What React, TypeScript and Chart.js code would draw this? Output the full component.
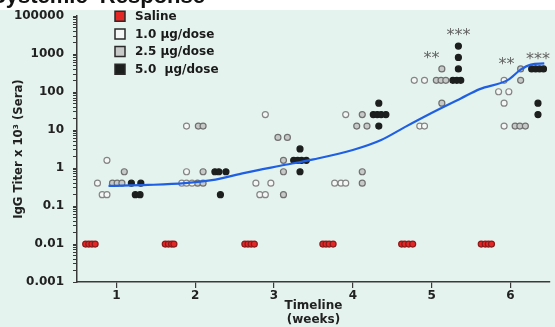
import React, { useEffect, useRef } from "react";
import { Chart, registerables } from "chart.js";
Chart.register(...registerables);

// ---- data ----
const weekTicks = [1, 2, 3, 4, 5, 6];
const titerTickValues = [0.001, 0.01, 0.1, 1, 10, 100, 1000, 10000];
const titerTickLabels = ["0.001", "0.01", "0.1", "1", "10", "100", "1000", "100000"];

const salineWeeks = [0.61, 0.65, 0.69, 0.73, 1.62, 1.66, 1.7, 1.73, 2.63, 2.67, 2.71, 2.75, 3.62, 3.66, 3.7, 3.75, 4.62, 4.66, 4.71, 4.76, 5.63, 5.68, 5.72, 5.76];
const salineTiters = [0.01, 0.01, 0.01, 0.01, 0.01, 0.01, 0.01, 0.01, 0.01, 0.01, 0.01, 0.01, 0.01, 0.01, 0.01, 0.01, 0.01, 0.01, 0.01, 0.01, 0.01, 0.01, 0.01, 0.01];

const dose10Weeks = [0.76, 0.88, 0.82, 0.88, 1.83, 1.89, 1.89, 1.89, 1.96, 2.77, 2.82, 2.89, 2.89, 2.96, 3.77, 3.85, 3.91, 3.91, 4.78, 4.85, 4.91, 4.91, 5.85, 5.92, 5.92, 5.92, 5.98];
const dose10Titers = [0.4, 1.6, 0.2, 0.2, 0.4, 0.4, 12.8, 0.8, 0.4, 0.4, 0.2, 0.2, 25.6, 0.4, 0.4, 0.4, 0.4, 25.6, 204.8, 12.8, 12.8, 204.8, 102.4, 204.8, 51.2, 12.8, 102.4];

const dose25Weeks = [0.95, 1.01, 1.07, 1.1, 2.03, 2.04, 2.1, 2.1, 2.1, 3.05, 3.17, 3.12, 3.12, 3.12, 4.05, 4.12, 4.12, 4.12, 4.18, 5.06, 5.12, 5.18, 5.13, 5.13, 6.06, 6.12, 6.19, 6.13, 6.13];
const dose25Titers = [0.4, 0.4, 0.4, 0.8, 0.4, 12.8, 12.8, 0.8, 0.4, 6.4, 6.4, 1.6, 0.8, 0.2, 12.8, 25.6, 0.8, 0.4, 12.8, 204.8, 204.8, 204.8, 409.6, 51.2, 12.8, 12.8, 12.8, 204.8, 409.6];

const dose50Weeks = [1.19, 1.31, 1.24, 1.3, 2.25, 2.3, 2.39, 2.32, 3.33, 3.25, 3.3, 3.35, 3.41, 3.33, 4.33, 4.26, 4.31, 4.36, 4.42, 4.33, 5.34, 5.34, 5.34, 5.27, 5.32, 5.37, 6.27, 6.32, 6.37, 6.42, 6.35, 6.35];
const dose50Titers = [0.4, 0.4, 0.2, 0.2, 0.8, 0.8, 0.8, 0.2, 3.2, 1.6, 1.6, 1.6, 1.6, 0.8, 51.2, 25.6, 25.6, 25.6, 25.6, 12.8, 1638, 819, 409.6, 204.8, 204.8, 204.8, 409.6, 409.6, 409.6, 409.6, 51.2, 25.6];

const trendWeeks = [0.9, 1.4, 1.87, 2.21, 2.63, 3.08, 3.5, 4.0, 4.36, 4.66, 4.95, 5.37, 5.61, 5.97, 6.13, 6.26, 6.43];
const trendTiters = [0.34, 0.36, 0.4, 0.48, 0.75, 1.15, 1.7, 3.0, 5.5, 12, 25, 68, 120, 210, 390, 530, 570];

const starLabels = ["**", "***", "**", "***"];
const starWeeks = [5.0, 5.34, 5.95, 6.35];
const starTiters = [890, 3550, 617, 830];

const seriesLabels = ["Saline", "1.0 \u00b5g/dose", "2.5 \u00b5g/dose", "5.0  \u00b5g/dose"];
const seriesFill = ["#e32626", "#f4f7f6", "#c6c9c8", "#1c1f1e"];
const seriesBorder = ["#8a1a1a", "#858585", "#707070", "#1c1f1e"];

const FONT = '"DejaVu Sans", sans-serif';

function pts(xs: number[], ys: number[]) {
  return xs.map((x, i) => ({ x, y: ys[i] }));
}

const bgPlugin = {
  id: "bgPlugin",
  beforeDraw(chart: any) {
    const { ctx, width, height } = chart;
    ctx.save();
    ctx.fillStyle = "#ffffff";
    ctx.fillRect(0, 0, width, height);
    ctx.fillStyle = "#111111";
    ctx.font = 'bold 22px "Liberation Sans", sans-serif';
    ctx.textBaseline = "alphabetic";
    ctx.textAlign = "left";
    ctx.fillText("Systemic  Response", -9, 3);
    ctx.fillStyle = "#e5f3ef";
    ctx.fillRect(0, 10, width, height - 10);
    ctx.restore();
  },
};

const overlayPlugin = {
  id: "overlayPlugin",
  afterDraw(chart: any) {
    const { ctx, chartArea } = chart;
    const xs = chart.scales.x;
    const ys = chart.scales.y;
    ctx.save();
    // stars
    ctx.fillStyle = "#626262";
    ctx.font = `16px ${FONT}`;
    ctx.textAlign = "center";
    ctx.textBaseline = "middle";
    starLabels.forEach((s, i) => {
      const px = xs.getPixelForValue(starWeeks[i]);
      const py = ys.getPixelForValue(starTiters[i]);
      ctx.fillText(s, px, py + 3);
    });
    // legend
    const lx = chartArea.left + 38;
    const ly0 = chartArea.top;
    ctx.textAlign = "left";
    ctx.font = `bold 12px ${FONT}`;
    seriesLabels.forEach((lab, i) => {
      const cy = ly0 + i * 17.7;
      ctx.fillStyle = seriesFill[i];
      ctx.strokeStyle = "#2a2a2a";
      ctx.lineWidth = 1.5;
      ctx.beginPath();
      ctx.rect(lx, cy - 5, 10, 10);
      ctx.fill();
      ctx.stroke();
      ctx.fillStyle = "#1a1a1a";
      ctx.fillText(lab, lx + 20, cy + 0.5);
    });
    ctx.restore();
  },
};

export default function App() {
  const ref = useRef<HTMLCanvasElement>(null);
  useEffect(() => {
    document.body.style.margin = "0";
    const minorTicks: number[] = [];
    for (let d = -3; d <= 3; d++) {
      for (let m = 1; m <= 9; m++) minorTicks.push(Number((m * Math.pow(10, d)).toPrecision(3)));
    }
    minorTicks.push(10000);
    const scatterDs = (i: number, data: any[]) => ({
      label: seriesLabels[i],
      data,
      backgroundColor: seriesFill[i],
      borderColor: seriesBorder[i],
      borderWidth: 1.2,
      pointRadius: 3,
      order: 2,
    });
    const chart = new Chart(ref.current!, {
      type: "scatter",
      data: {
        datasets: [
          {
            label: "trend",
            data: pts(trendWeeks, trendTiters),
            showLine: true,
            borderColor: "#1f5fe3",
            borderWidth: 2.2,
            pointRadius: 0,
            tension: 0.4,
            cubicInterpolationMode: "monotone",
            order: 0,
          } as any,
          scatterDs(0, pts(salineWeeks, salineTiters)),
          scatterDs(1, pts(dose10Weeks, dose10Titers)),
          scatterDs(2, pts(dose25Weeks, dose25Titers)),
          scatterDs(3, pts(dose50Weeks, dose50Titers)),
        ],
      },
      options: {
        animation: false,
        responsive: false,
        events: [],
        layout: { padding: { top: 16, right: 2, left: 0, bottom: 0 } },
        plugins: { legend: { display: false }, tooltip: { enabled: false } },
        scales: {
          x: {
            type: "linear",
            min: 0.5,
            max: 6.5,
            afterBuildTicks: (axis: any) => {
              axis.ticks = weekTicks.map((v) => ({ value: v }));
            },
            afterFit: (scale: any) => {
              scale.height = 45;
            },
            grid: { drawOnChartArea: false, drawTicks: true, tickLength: 6, color: "#3a3a3a", lineWidth: 1.2 },
            border: { display: true, color: "#3a3a3a", width: 1.5 },
            ticks: { font: { family: FONT, size: 12, weight: "bold" }, color: "#222", padding: 1 },
            title: {
              display: true,
              text: ["Timeline", "(weeks)"],
              font: { family: FONT, size: 12, weight: "bold" },
              color: "#222",
              padding: { top: 2, bottom: 0 },
            },
          },
          y: {
            type: "logarithmic",
            min: 0.001,
            max: 10000,
            afterBuildTicks: (axis: any) => {
              axis.ticks = minorTicks.map((v) => ({ value: v }));
            },
            afterFit: (scale: any) => {
              scale.width = 77;
            },
            grid: { drawOnChartArea: false, drawTicks: true, tickLength: 4, color: "#3a3a3a", lineWidth: 1 },
            border: { display: true, color: "#3a3a3a", width: 1.5 },
            ticks: {
              autoSkip: false,
              font: { family: FONT, size: 12, weight: "bold" },
              color: "#222",
              padding: 9,
              callback: (v: any) => {
                const idx = titerTickValues.findIndex((t) => Math.abs(Math.log10(t) - Math.log10(Number(v))) < 1e-6);
                return idx >= 0 ? titerTickLabels[idx] : "";
              },
            },
            title: {
              display: true,
              text: "IgG Titer x 10\u00b3 (Sera)",
              font: { family: '"DejaVu Sans Condensed", "Liberation Sans Narrow", sans-serif', size: 13, weight: "bold" },
              color: "#222",
              padding: { top: 11, bottom: 0 },
            },
          },
        },
      } as any,
      plugins: [bgPlugin, overlayPlugin],
    });
    return () => chart.destroy();
  }, []);
  return (
    <div style={{ width: 555, height: 327 }}>
      <canvas ref={ref} width={555} height={327} style={{ display: "block" }} />
    </div>
  );
}
